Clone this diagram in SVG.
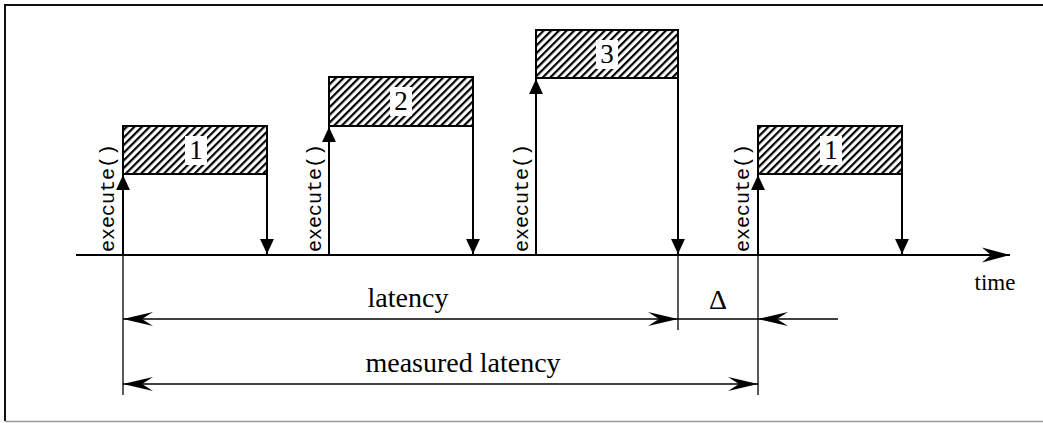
<svg xmlns="http://www.w3.org/2000/svg" width="1043" height="423" viewBox="0 0 1043 423">
<style>
.box{fill:url(#hatch);stroke:#000;stroke-width:2}
.knock{fill:#fff}
.num{font-family:"Liberation Serif",serif;font-size:27px;text-anchor:middle;fill:#000}
.lbl{font-family:"Liberation Serif",serif;font-size:28px;text-anchor:middle;fill:#000}
.mono{font-family:"Liberation Mono",monospace;font-size:20px;fill:#000}
.vline{stroke:#000;stroke-width:2;fill:none}
.ext{stroke:#000;stroke-width:1.3;fill:none}
.dim{stroke:#000;stroke-width:1.3;fill:none}
.axis{stroke:#000;stroke-width:2.2;fill:none}
</style>
<defs>
<pattern id="hatch" patternUnits="userSpaceOnUse" width="5.4" height="10" patternTransform="rotate(45)">
<rect x="0" y="0" width="2.2" height="10" fill="#000"/>
</pattern>
<marker id="tri" markerUnits="userSpaceOnUse" markerWidth="16" markerHeight="16" viewBox="-14 -7 15 14" refX="0" refY="0" orient="auto">
<path d="M0,0 L-14,-6.5 L-14,6.5 Z" fill="#000"/>
</marker>
<marker id="barb" markerUnits="userSpaceOnUse" markerWidth="32" markerHeight="16" viewBox="-31 -8 32 16" refX="0" refY="0" orient="auto-start-reverse">
<path d="M0,0 L-30,-7 L-19,0 L-30,7 Z" fill="#000"/>
</marker>
<marker id="axhead" markerUnits="userSpaceOnUse" markerWidth="32" markerHeight="18" viewBox="-30 -9 31 18" refX="0" refY="0" orient="auto">
<path d="M0,0 L-28,-7.5 L-19,0 L-28,7.5 Z" fill="#000"/>
</marker>
</defs>
<rect width="1043" height="423" fill="#fff"/>
<g id="frame">
<path d="M1043,5 L5,5 L5,421" fill="none" stroke="#111" stroke-width="2"/>
<path d="M5,421.5 L1043,421.5" fill="none" stroke="#999" stroke-width="1.6"/>
</g>
<g id="connectors">
<line class="axis" x1="76" y1="255" x2="1010" y2="255" marker-end="url(#axhead)"/>
<line class="vline" x1="123" y1="255" x2="123" y2="175" marker-end="url(#tri)"/>
<line class="vline" x1="267" y1="174" x2="267" y2="254" marker-end="url(#tri)"/>
<line class="vline" x1="329" y1="255" x2="329" y2="127" marker-end="url(#tri)"/>
<line class="vline" x1="473" y1="126" x2="473" y2="254" marker-end="url(#tri)"/>
<line class="vline" x1="536" y1="255" x2="536" y2="79" marker-end="url(#tri)"/>
<line class="vline" x1="678" y1="78" x2="678" y2="254" marker-end="url(#tri)"/>
<line class="vline" x1="758" y1="255" x2="758" y2="175" marker-end="url(#tri)"/>
<line class="vline" x1="902" y1="174" x2="902" y2="254" marker-end="url(#tri)"/>
<line class="ext" x1="123" y1="255" x2="123" y2="395"/>
<line class="ext" x1="678" y1="255" x2="678" y2="330"/>
<line class="ext" x1="758" y1="255" x2="758" y2="395"/>
<line class="dim" x1="123" y1="319" x2="678" y2="319" marker-start="url(#barb)" marker-end="url(#barb)"/>
<line class="dim" x1="678" y1="319" x2="758" y2="319"/>
<line class="dim" x1="838" y1="319" x2="758" y2="319" marker-end="url(#barb)"/>
<line class="dim" x1="123" y1="384" x2="758" y2="384" marker-start="url(#barb)" marker-end="url(#barb)"/>
</g>
<g id="task1a">
<rect class="box" x="123" y="126" width="144" height="48"/>
<rect class="knock" x="185" y="136" width="22" height="29"/>
<text class="num" x="196" y="159">1</text>
<text class="mono" transform="translate(114,252) rotate(-90)">execute()</text>
</g>
<g id="task2">
<rect class="box" x="329" y="77" width="144" height="49"/>
<rect class="knock" x="390" y="87" width="22" height="29"/>
<text class="num" x="401" y="110">2</text>
<text class="mono" transform="translate(321,252) rotate(-90)">execute()</text>
</g>
<g id="task3">
<rect class="box" x="536" y="30" width="142" height="48"/>
<rect class="knock" x="596" y="40" width="22" height="29"/>
<text class="num" x="607" y="63">3</text>
<text class="mono" transform="translate(528,252) rotate(-90)">execute()</text>
</g>
<g id="task1b">
<rect class="box" x="758" y="126" width="144" height="48"/>
<rect class="knock" x="820" y="136" width="22" height="29"/>
<text class="num" x="831" y="159">1</text>
<text class="mono" transform="translate(749,252) rotate(-90)">execute()</text>
</g>
<g id="labels">
<text class="lbl" x="408" y="307">latency</text>
<text class="lbl" x="463" y="372">measured latency</text>
<text class="lbl" x="718" y="309">Δ</text>
<text class="lbl" x="995" y="290" style="font-size:23px">time</text>
</g>
</svg>
